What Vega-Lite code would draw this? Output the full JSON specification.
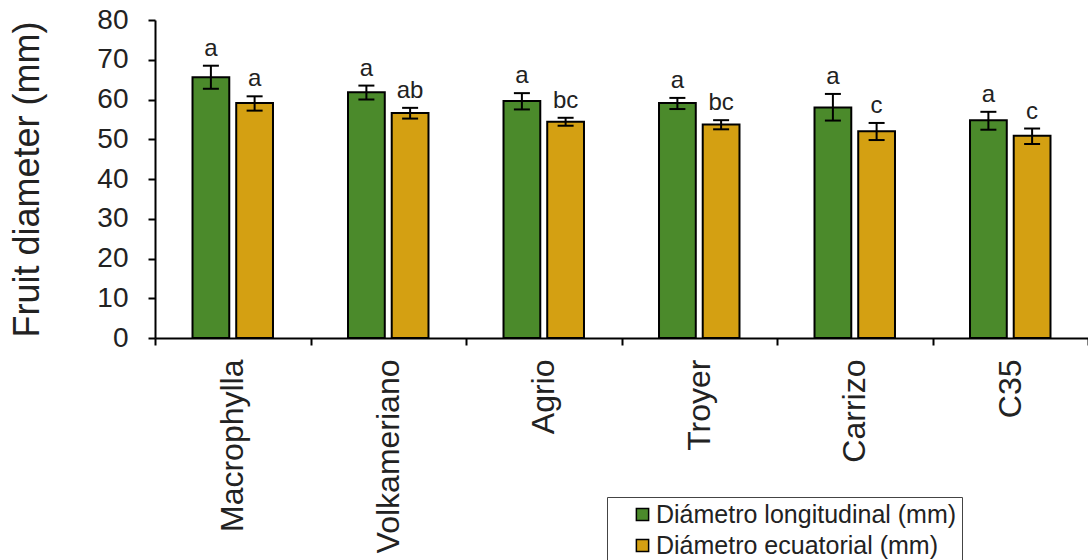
{
  "$schema": "https://vega.github.io/schema/vega-lite/v6.json",
  "width": 933,
  "height": 318,
  "autosize": {"type": "none"},
  "padding": {"left": 155, "top": 20, "right": 0, "bottom": 222},
  "background": "white",
  "config": {
    "view": {"stroke": null},
    "font": "Liberation Sans",
    "axis": {"domainColor": "black", "domainWidth": 2, "tickColor": "black", "tickWidth": 2, "labelColor": "#222", "titleColor": "#222", "grid": false, "labelFont": "Liberation Sans", "titleFont": "Liberation Sans", "titleFontWeight": "normal", "labelOverlap": false}
  },
  "data": {
    "values": [
      {"rootstock": "Macrophylla", "type": "Diámetro longitudinal (mm)", "mean": 65.6, "lo": 62.7, "hi": 68.5, "letter": "a"},
      {"rootstock": "Macrophylla", "type": "Diámetro ecuatorial (mm)", "mean": 59.1, "lo": 57.2, "hi": 60.8, "letter": "a"},
      {"rootstock": "Volkameriano", "type": "Diámetro longitudinal (mm)", "mean": 61.8, "lo": 60.0, "hi": 63.5, "letter": "a"},
      {"rootstock": "Volkameriano", "type": "Diámetro ecuatorial (mm)", "mean": 56.6, "lo": 55.2, "hi": 57.9, "letter": "ab"},
      {"rootstock": "Agrio", "type": "Diámetro longitudinal (mm)", "mean": 59.6, "lo": 57.5, "hi": 61.6, "letter": "a"},
      {"rootstock": "Agrio", "type": "Diámetro ecuatorial (mm)", "mean": 54.4, "lo": 53.4, "hi": 55.4, "letter": "bc"},
      {"rootstock": "Troyer", "type": "Diámetro longitudinal (mm)", "mean": 59.1, "lo": 57.6, "hi": 60.4, "letter": "a"},
      {"rootstock": "Troyer", "type": "Diámetro ecuatorial (mm)", "mean": 53.7, "lo": 52.5, "hi": 54.8, "letter": "bc"},
      {"rootstock": "Carrizo", "type": "Diámetro longitudinal (mm)", "mean": 58.0, "lo": 54.7, "hi": 61.4, "letter": "a"},
      {"rootstock": "Carrizo", "type": "Diámetro ecuatorial (mm)", "mean": 52.0, "lo": 49.8, "hi": 54.1, "letter": "c"},
      {"rootstock": "C35", "type": "Diámetro longitudinal (mm)", "mean": 54.8, "lo": 52.4, "hi": 56.9, "letter": "a"},
      {"rootstock": "C35", "type": "Diámetro ecuatorial (mm)", "mean": 50.9, "lo": 48.8, "hi": 52.7, "letter": "c"}
    ]
  },
  "encoding": {
    "x": {
      "field": "rootstock", "type": "nominal",
      "sort": ["Macrophylla", "Volkameriano", "Agrio", "Troyer", "Carrizo", "C35"],
      "scale": {"paddingInner": 0, "paddingOuter": 0},
      "axis": {"title": null, "labelAngle": -90, "labelFontSize": 32, "tickSize": 7, "tickBand": "extent", "labelPadding": 14, "labelLimit": 400}
    },
    "xOffset": {
      "field": "type", "type": "nominal",
      "sort": ["Diámetro longitudinal (mm)", "Diámetro ecuatorial (mm)"],
      "scale": {"paddingInner": 0.159, "paddingOuter": 0.858}
    }
  },
  "layer": [
    {
      "mark": {"type": "bar", "stroke": "black", "strokeWidth": 2},
      "encoding": {
        "y": {
          "field": "mean", "type": "quantitative",
          "scale": {"domain": [0, 80]},
          "axis": {"title": "Fruit diameter (mm)", "values": [0, 10, 20, 30, 40, 50, 60, 70, 80], "labelFontSize": 28, "titleFontSize": 36, "tickSize": 7, "labelPadding": 20, "titlePadding": 50}
        },
        "color": {
          "field": "type", "type": "nominal",
          "scale": {"domain": ["Diámetro longitudinal (mm)", "Diámetro ecuatorial (mm)"], "range": ["#4b8a2b", "#d4a012"]},
          "legend": {
            "title": null, "orient": "none", "legendX": 452, "legendY": 477,
            "labelFontSize": 25, "labelColor": "#222", "labelFont": "Liberation Sans",
            "symbolType": "square", "symbolSize": 150, "symbolStrokeColor": "black", "symbolStrokeWidth": 1.5,
            "padding": 5, "rowPadding": 5, "strokeColor": "#444", "fillColor": "white",
            "labelOffset": 1, "symbolOffset": 18, "labelLimit": 600,
            "encode": {"symbols": {
              "update": {"stroke": {"value": "black"}, "strokeWidth": {"value": 1.5}, "opacity": {"value": 1}}
            }}
          }
        }
      }
    },
    {
      "mark": {"type": "rule", "strokeWidth": 2, "color": "black"},
      "encoding": {
        "y": {"field": "lo", "type": "quantitative", "axis": {"title": "Fruit diameter (mm)", "values": [0, 10, 20, 30, 40, 50, 60, 70, 80], "labelFontSize": 28, "titleFontSize": 36, "tickSize": 7, "labelPadding": 20, "titlePadding": 50}},
        "y2": {"field": "hi"}
      }
    },
    {
      "mark": {"type": "tick", "thickness": 2, "size": 16, "color": "black", "opacity": 1},
      "encoding": {"y": {"field": "lo", "type": "quantitative", "axis": {"title": "Fruit diameter (mm)", "values": [0, 10, 20, 30, 40, 50, 60, 70, 80], "labelFontSize": 28, "titleFontSize": 36, "tickSize": 7, "labelPadding": 20, "titlePadding": 50}}}
    },
    {
      "mark": {"type": "tick", "thickness": 2, "size": 16, "color": "black", "opacity": 1},
      "encoding": {"y": {"field": "hi", "type": "quantitative", "axis": {"title": "Fruit diameter (mm)", "values": [0, 10, 20, 30, 40, 50, 60, 70, 80], "labelFontSize": 28, "titleFontSize": 36, "tickSize": 7, "labelPadding": 20, "titlePadding": 50}}}
    },
    {
      "mark": {"type": "text", "dy": -10, "baseline": "alphabetic", "fontSize": 24, "color": "#222", "font": "Liberation Sans"},
      "encoding": {
        "y": {"field": "hi", "type": "quantitative", "axis": {"title": "Fruit diameter (mm)", "values": [0, 10, 20, 30, 40, 50, 60, 70, 80], "labelFontSize": 28, "titleFontSize": 36, "tickSize": 7, "labelPadding": 20, "titlePadding": 50}},
        "text": {"field": "letter"}
      }
    }
  ]
}
